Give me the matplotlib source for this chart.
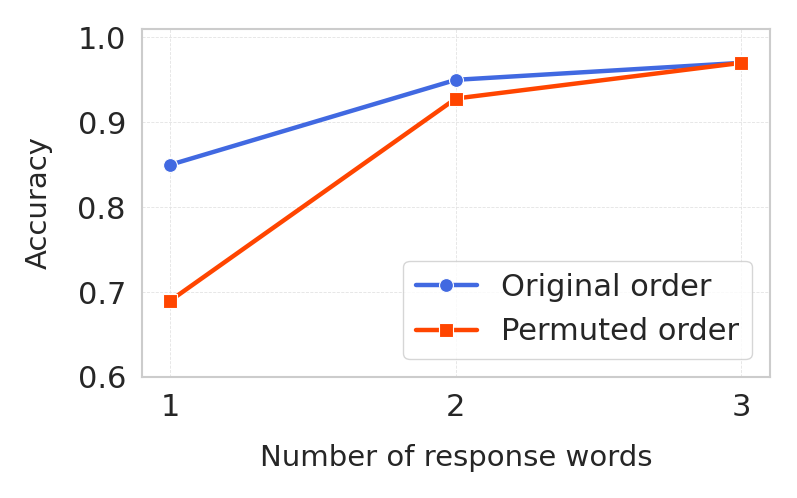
import matplotlib
matplotlib.use("Agg")
import matplotlib.pyplot as plt
import seaborn as sns

# Données
n_words = [1, 2, 3]
acc_original = [0.85, 0.95, 0.97]
acc_permuted = [0.69, 0.928, 0.97]
y_ticks = [0.6, 0.7, 0.8, 0.9, 1.0]

sns.set_style("whitegrid")

fig = plt.figure(figsize=(7.97, 4.98), dpi=100)
ax = fig.add_axes([0.178, 0.243, 0.788, 0.699])

ax.plot(n_words, acc_original, color="royalblue", marker="o", lw=3.2,
        markersize=10, markeredgecolor="white", markeredgewidth=0.8, label="Original order")
ax.plot(n_words, acc_permuted, color="orangered", marker="s", lw=3.2,
        markersize=10, markeredgecolor="white", markeredgewidth=0.8, label="Permuted order")

ax.set_xlim(0.9, 3.1)
ax.set_ylim(0.6, 1.01)
ax.set_xticks(n_words)
ax.set_yticks(y_ticks)
ax.set_yticklabels([f"{v:.1f}" for v in y_ticks])
ax.tick_params(labelsize=22, colors="#262626", pad=8)

ax.set_xlabel("Number of response words", fontsize=21, labelpad=16, color="#262626")
ax.set_ylabel("Accuracy", fontsize=21, labelpad=18, color="#262626")

ax.grid(True, linestyle="--", linewidth=0.6, color="#e3e3e3")
for s in ax.spines.values():
    s.set_color("#cccccc")
    s.set_linewidth(1.5)

leg = ax.legend(loc="lower right", fontsize=22, frameon=True, borderpad=0.4,
                handlelength=2.0, borderaxespad=0.6)
leg.get_frame().set_edgecolor("#cccccc")

fig.savefig("out.png", dpi=100)
